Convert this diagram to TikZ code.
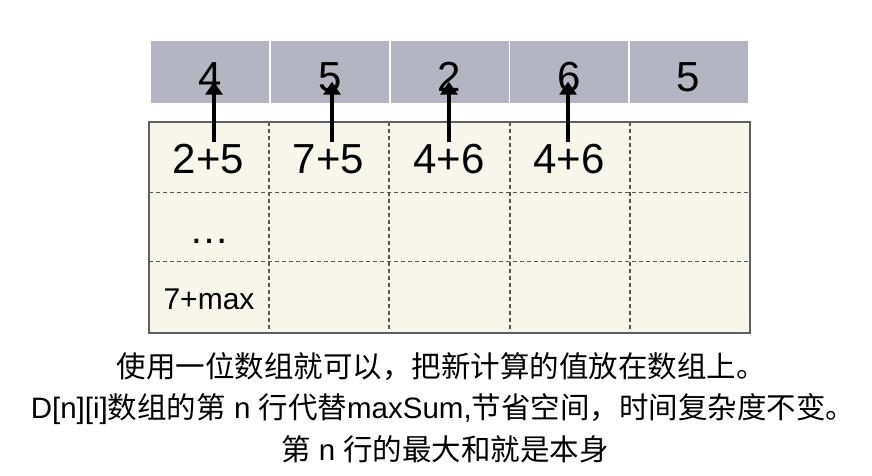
\documentclass[tikz,border=0pt]{standalone}
\usepackage{fontspec}
\setmainfont{Liberation Sans}
\newfontfamily\cjk{Noto Sans CJK SC}
\usetikzlibrary{arrows.meta}
\definecolor{topgrey}{RGB}{180,180,194}
\definecolor{cream}{RGB}{248,245,234}
\definecolor{bordergrey}{RGB}{95,95,95}
\definecolor{dashgrey}{RGB}{85,85,85}
\tikzset{
  topcell/.style={fill=topgrey, draw=none, minimum width=118pt, minimum height=61.7pt, inner sep=0pt},
  bignum/.style={font=\fontsize{42}{42}\selectfont, inner sep=0pt, anchor=base},
  smallnum/.style={font=\fontsize{30}{30}\selectfont, inner sep=0pt, anchor=base},
  caption/.style={font=\fontsize{29.5}{30}\selectfont, inner sep=0pt, anchor=base},
  gridline/.style={draw=dashgrey, line width=1.3pt, dash pattern=on 4pt off 3pt},
  uparrow/.style={line width=3.2pt, -{Triangle[width=17pt,length=13pt]}}
}
\begin{document}
\begin{tikzpicture}[x=1pt,y=-1pt]
\useasboundingbox (0,0) rectangle (872,476);
% top row cells
\node[topcell] (t1) at (210,71.85) {};
\node[topcell] (t2) at (330,71.85) {};
\node[topcell] (t3) at (449.5,71.85) {};
\node[topcell] (t4) at (569,71.85) {};
\node[topcell] (t5) at (688.5,71.85) {};
\node[bignum] (n1) at (210,91.7) {4};
\node[bignum] (n2) at (330,91.7) {5};
\node[bignum] (n3) at (449.5,91.7) {2};
\node[bignum] (n4) at (569,91.7) {6};
\node[bignum] (n5) at (688.5,91.7) {5};
% table
\path[fill=cream] (149,121.7) rectangle (750,333);
\draw[gridline] (269,121.7) -- (269,333);
\draw[gridline] (389,121.7) -- (389,333);
\draw[gridline] (510,121.7) -- (510,333);
\draw[gridline] (630,121.7) -- (630,333);
\draw[gridline] (149,192.3) -- (750,192.3);
\draw[gridline] (149,261.7) -- (750,261.7);
\draw[draw=bordergrey, line width=2pt] (149,121.7) rectangle (750,333);
% cell texts
\node[bignum] (c1) at (208.5,173.3) {2+5};
\node[bignum] (c2) at (328.5,173.3) {7+5};
\node[bignum] (c3) at (449,173.3) {4+6};
\node[bignum] (c4) at (569,173.3) {4+6};
\node[bignum, font=\fontsize{40}{40}\selectfont] (c5) at (209,243) {…};
\node[smallnum] (c6) at (209,309.3) {7+max};
% arrows
\coordinate (a1s) at (214,142.3); \coordinate (a1e) at (214,81.7);
\coordinate (a2s) at (332,142.3); \coordinate (a2e) at (332,81.7);
\coordinate (a3s) at (449,142.3); \coordinate (a3e) at (449,81.7);
\coordinate (a4s) at (568,142.3); \coordinate (a4e) at (568,81.7);
\draw[uparrow] (a1s) -- (a1e);
\draw[uparrow] (a2s) -- (a2e);
\draw[uparrow] (a3s) -- (a3e);
\draw[uparrow] (a4s) -- (a4e);
% caption
\node[caption] (l1) at (441,377.5) {\cjk 使用一位数组就可以，把新计算的值放在数组上。};
\node[caption] (l2) at (443,418.5) {D[n][i]{\cjk 数组的第} n {\cjk 行代替}maxSum,{\cjk 节省空间，时间复杂度不变。}};
\node[caption] (l3) at (445,460) {{\cjk 第} n {\cjk 行的最大和就是本身}};
\end{tikzpicture}
\end{document}
